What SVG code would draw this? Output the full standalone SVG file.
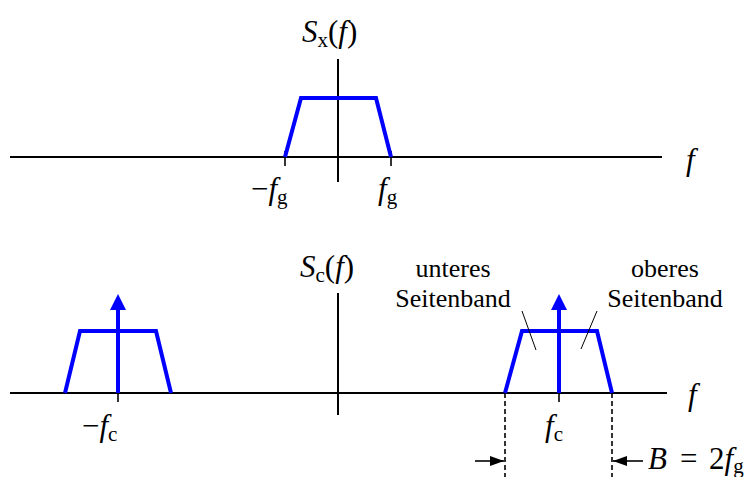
<svg xmlns="http://www.w3.org/2000/svg" width="747" height="477" viewBox="0 0 747 477">
<style>
.ax{stroke:#000;stroke-width:2;fill:none}
.tk{stroke:#000;stroke-width:1.6;fill:none}
.sp{stroke:#0000ff;stroke-width:4;fill:none;stroke-linejoin:miter}
.ld{stroke:#000;stroke-width:1;fill:none}
.ds{stroke:#000;stroke-width:1.6;stroke-dasharray:5,3;fill:none}
.t{font-size:26px;fill:#000}
.m{font-size:31px;fill:#000}
.it{font-style:italic}
.sub{font-size:21px}
</style>
<defs>
<marker id="ak" markerWidth="14" markerHeight="10" refX="14" refY="5" orient="auto" markerUnits="userSpaceOnUse" viewBox="0 0 14 10">
<path d="M0,0 L14,5 L0,10 Z" fill="#000"/>
</marker>
</defs>
<g id="axes">
<line class="ax" x1="10" y1="157" x2="662" y2="157"/>
<line class="ax" x1="338" y1="59" x2="338" y2="182"/>
<line class="ax" x1="10" y1="393" x2="667" y2="393"/>
<line class="ax" x1="338" y1="293" x2="338" y2="415"/>
<line class="tk" x1="285" y1="151" x2="285" y2="166"/>
<line class="tk" x1="391" y1="151" x2="391" y2="166"/>
<line class="tk" x1="118" y1="388" x2="118" y2="402"/>
<line class="tk" x1="559" y1="388" x2="559" y2="402"/>
</g>
<g id="spectrum-top">
<polyline class="sp" points="285,157 301,98 376,98 391,157"/>
</g>
<g id="spectrum-left">
<polyline class="sp" points="65,393 80,331 156,331 171,393"/>
<line x1="118" y1="393" x2="118" y2="307" stroke="#0000ff" stroke-width="4"/>
<path d="M110,310 L118,294 L126,310 Z" fill="#0000ff"/>
</g>
<g id="spectrum-right">
<polyline class="sp" points="505,393 522,331 597,331 612,393"/>
<line x1="559" y1="393" x2="559" y2="307" stroke="#0000ff" stroke-width="4"/>
<path d="M551,310 L559,294 L567,310 Z" fill="#0000ff"/>
</g>
<g id="connectors">
<line class="ld" x1="522" y1="311" x2="536" y2="350"/>
<line class="ld" x1="597" y1="311" x2="581" y2="349"/>
<line class="ds" x1="505" y1="393" x2="505" y2="477"/>
<line class="ds" x1="612" y1="393" x2="612" y2="477"/>
<line x1="475" y1="461" x2="504" y2="461" stroke="#000" stroke-width="1.6" marker-end="url(#ak)"/>
<line x1="643" y1="461" x2="613" y2="461" stroke="#000" stroke-width="1.6" marker-end="url(#ak)"/>
</g>
<g id="labels" font-family="Liberation Serif, Times New Roman, serif">
<text class="m" x="302" y="42"><tspan class="it">S</tspan><tspan class="sub" dy="5">x</tspan><tspan dy="-5">(</tspan><tspan class="it">f</tspan>)</text>
<text class="m" x="251" y="199">−<tspan class="it">f</tspan><tspan class="sub" dy="5">g</tspan></text>
<text class="m" x="378" y="199"><tspan class="it">f</tspan><tspan class="sub" dy="5">g</tspan></text>
<text class="m it" x="686" y="170">f</text>
<text class="m" x="300" y="277"><tspan class="it">S</tspan><tspan class="sub" dy="5">c</tspan><tspan dy="-5">(</tspan><tspan class="it">f</tspan>)</text>
<text class="t" x="453" y="277" text-anchor="middle">unteres</text>
<text class="t" x="453" y="307" text-anchor="middle">Seitenband</text>
<text class="t" x="665" y="277" text-anchor="middle">oberes</text>
<text class="t" x="665" y="307" text-anchor="middle">Seitenband</text>
<text class="m it" x="688" y="405">f</text>
<text class="m" x="82" y="436">−<tspan class="it">f</tspan><tspan class="sub" dy="5">c</tspan></text>
<text class="m" x="545" y="436"><tspan class="it">f</tspan><tspan class="sub" dy="5">c</tspan></text>
<text class="m" x="648" y="469"><tspan class="it">B</tspan><tspan x="680">=</tspan><tspan x="709">2</tspan><tspan class="it">f</tspan><tspan class="sub" dy="4">g</tspan></text>
</g>
</svg>
